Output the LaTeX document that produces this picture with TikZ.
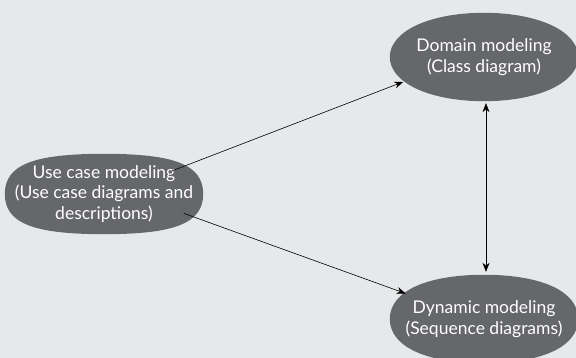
\documentclass[tikz,border=0pt]{standalone}
\usepackage{fontspec}
\setmainfont{Lato}
\definecolor{PanelGrey}{RGB}{231, 232, 234}
\definecolor{BubbleGrey}{RGB}{102, 103, 107}
\usetikzlibrary{arrows.meta,positioning,shapes.geometric,calc,backgrounds}

% full, slightly boxy oval behind a node: #1 = node name, #2 = roundness
\newcommand{\blobfill}[2]{%
    \fill[BubbleGrey]
        (#1.east) .. controls ($(#1.east)!#2!(#1.east |- #1.north)$) and ($(#1.north)!#2!(#1.east |- #1.north)$) ..
        (#1.north) .. controls ($(#1.north)!#2!(#1.west |- #1.north)$) and ($(#1.west)!#2!(#1.west |- #1.north)$) ..
        (#1.west) .. controls ($(#1.west)!#2!(#1.west |- #1.south)$) and ($(#1.south)!#2!(#1.west |- #1.south)$) ..
        (#1.south) .. controls ($(#1.south)!#2!(#1.east |- #1.south)$) and ($(#1.east)!#2!(#1.east |- #1.south)$) ..
        cycle;}

\begin{document}
\begin{tikzpicture}[
    x=1pt, y=-1pt,
    bubble/.style={ellipse, inner sep=0pt},
    bubtext/.style={text=white, align=center, inner sep=0pt, font=\fontsize{17.5}{20.5}\selectfont},
    arr/.style={-{Stealth[length=9pt, width=7pt]}, semithick},
    darr/.style={{Stealth[length=9pt, width=7pt]}-{Stealth[length=9pt, width=7pt]}, semithick}
]
    \useasboundingbox (0,0) rectangle (576,358);

    \node[bubble, minimum width=198pt, minimum height=80pt,
          label={[bubtext]center:Use case modeling\\(Use case diagrams and\\descriptions)}] (usecase) at (104,194) {};
    \node[bubble, minimum width=188pt, minimum height=88pt,
          label={[bubtext]center:Domain modeling\\(Class diagram)}] (domain) at (484,57) {};
    \node[bubble, minimum width=188pt, minimum height=88pt,
          label={[bubtext]center:Dynamic modeling\\(Sequence diagrams)}] (dynamic) at (484,319) {};

    % panel and ovals
    \begin{pgfonlayer}{background}
        \fill[PanelGrey] (0,0) rectangle (576,358);
        \blobfill{usecase}{0.72}
        \blobfill{domain}{0.58}
        \blobfill{dynamic}{0.62}
    \end{pgfonlayer}

    \coordinate (dtop) at ([shift={(2,2)}]domain.south);
    \coordinate (dbot) at ([shift={(2,-3)}]dynamic.north);

    \draw[arr, shorten <=-8pt, shorten >=2pt] (usecase.19.4) -- (domain.197.2);
    \draw[arr, shorten <=-5pt, shorten >=1pt] (usecase.-14.5) -- (dynamic.162);
    \draw[darr] (dtop) -- (dbot);
\end{tikzpicture}
\end{document}
